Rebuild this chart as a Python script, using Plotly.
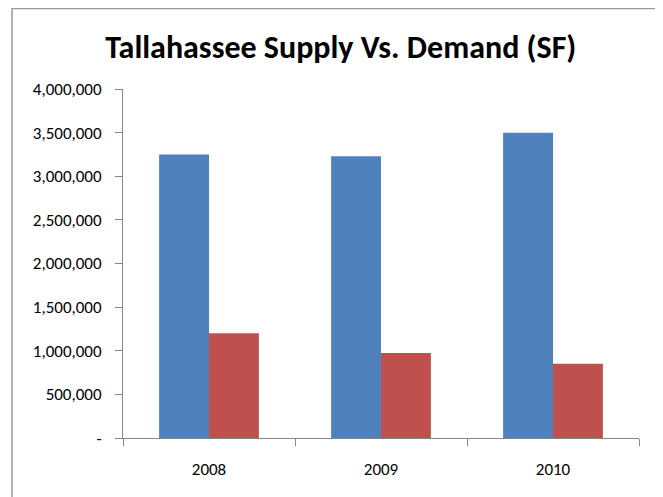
import plotly.graph_objects as go

years = ["2008", "2009", "2010"]
supply = [3250000, 3230000, 3500000]
demand = [1200000, 975000, 850000]
tick_vals = [0, 500000, 1000000, 1500000, 2000000, 2500000, 3000000, 3500000, 4000000]
tick_text = ["-", "500,000", "1,000,000", "1,500,000", "2,000,000", "2,500,000",
             "3,000,000", "3,500,000", "4,000,000"]

FONT = "Carlito, 'Liberation Sans Narrow', 'DejaVu Sans Condensed', sans-serif"

fig = go.Figure()
fig.add_trace(go.Bar(x=years, y=supply, name="Supply", marker=dict(color="#4F81BD", line=dict(width=0))))
fig.add_trace(go.Bar(x=years, y=demand, name="Demand", marker=dict(color="#C0504D", line=dict(width=0))))

fig.update_layout(
    width=655, height=489,
    margin=dict(l=115, r=24, t=81, b=59),
    paper_bgcolor="white", plot_bgcolor="white",
    barmode="group", bargap=0.42, bargroupgap=0,
    showlegend=False,
    title=dict(text="<b>Tallahassee Supply Vs. Demand (SF)</b>", x=0.508, xanchor="center",
               y=0.92, yanchor="middle",
               font=dict(family=FONT, size=32, color="black")),
    font=dict(family=FONT, size=17, color="black"),
    xaxis=dict(showline=True, linecolor="#868686", linewidth=1, ticks="outside",
               tickson="boundaries", ticklen=7, tickcolor="#868686", showgrid=False,
               ticklabelstandoff=16, tickfont=dict(size=17)),
    yaxis=dict(range=[0, 4000000], tickvals=tick_vals, ticktext=tick_text,
               showline=True, linecolor="#868686", linewidth=1, ticks="outside",
               ticklen=7, tickcolor="#868686", showgrid=False, zeroline=False,
               ticklabelstandoff=10, tickfont=dict(size=17)),
    shapes=[dict(type="rect", xref="paper", yref="paper", x0=-0.2151, x1=1.0349,
                 y0=-0.21, y1=1.2307, line=dict(color="#999999", width=1.5))],
)

fig.write_html("out.html")
